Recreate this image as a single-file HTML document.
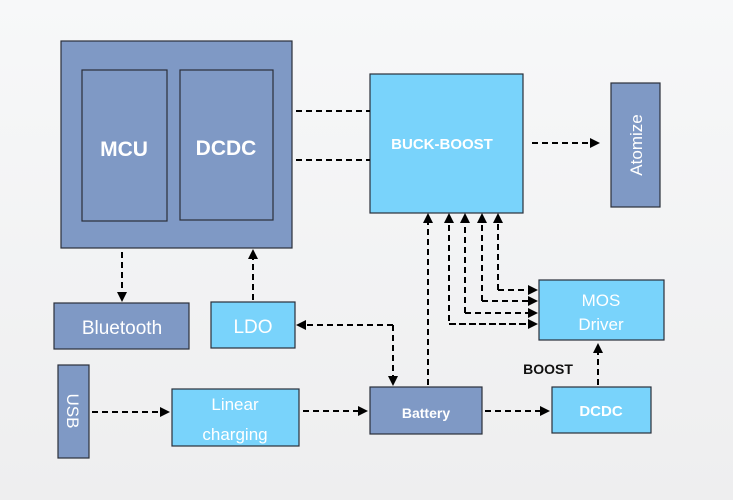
<!DOCTYPE html>
<html><head><meta charset="utf-8"><style>
html,body{margin:0;padding:0;background:#f3f3f4;}
svg{display:block;font-family:"Liberation Sans",sans-serif;}
</style></head><body>
<svg width="733" height="500" viewBox="0 0 733 500" xmlns="http://www.w3.org/2000/svg">
<defs>
<marker id="a" markerWidth="10" markerHeight="10" refX="8" refY="5" orient="auto" markerUnits="userSpaceOnUse">
<path d="M0,0 L10,5 L0,10 z" fill="#000"/></marker>
<linearGradient id="bg" x1="0" y1="0" x2="0" y2="1"><stop offset="0" stop-color="#f7f8f9"/><stop offset="1" stop-color="#eeeeef"/></linearGradient>
</defs>
<rect width="733" height="500" fill="url(#bg)"/>
<g stroke="#2a2f3a" stroke-width="1.2">
<rect x="61" y="41" width="231" height="207" fill="#7f99c5"/>
<rect x="82" y="70" width="85" height="151" fill="#7f99c5"/>
<rect x="180" y="70" width="93" height="150" fill="#7f99c5"/>
<rect x="370" y="74" width="153" height="139" fill="#79d3fb"/>
<rect x="611" y="83" width="49" height="124" fill="#7f99c5"/>
<rect x="54" y="303" width="135" height="46" fill="#7f99c5"/>
<rect x="211" y="302" width="84" height="46" fill="#79d3fb"/>
<rect x="539" y="280" width="125" height="60" fill="#79d3fb"/>
<rect x="58" y="365" width="31" height="93" fill="#7f99c5"/>
<rect x="172" y="389" width="127" height="57" fill="#79d3fb"/>
<rect x="370" y="387" width="112" height="47" fill="#7f99c5"/>
<rect x="552" y="387" width="99" height="46" fill="#79d3fb"/>
</g>
<g fill="#fff" text-anchor="middle">
<text x="124" y="156" font-size="21" font-weight="bold">MCU</text>
<text x="226" y="155" font-size="21" font-weight="bold">DCDC</text>
<text x="442" y="149" font-size="15" font-weight="bold">BUCK-BOOST</text>
<text transform="translate(642,145) rotate(-90)" font-size="17">Atomize</text>
<text x="122" y="334" font-size="19">Bluetooth</text>
<text x="253" y="333" font-size="19">LDO</text>
<text x="601" y="306" font-size="17">MOS</text>
<text x="601" y="330" font-size="17">Driver</text>
<text transform="translate(67,411) rotate(90)" font-size="17">USB</text>
<text x="235" y="410" font-size="17">Linear</text>
<text x="235" y="440" font-size="17">charging</text>
<text x="426" y="418" font-size="14" font-weight="bold">Battery</text>
<text x="601" y="416" font-size="15" font-weight="bold">DCDC</text>
</g>
<text x="548" y="374" font-size="14" font-weight="bold" fill="#111" text-anchor="middle">BOOST</text>
<g stroke="#000" stroke-width="2" stroke-dasharray="6,4" fill="none">
<path d="M296,111 H370"/>
<path d="M296,160 H370"/>
<path d="M532,143 H598" marker-end="url(#a)"/>
<path d="M122,252 V300" marker-end="url(#a)"/>
<path d="M253,300 V251" marker-end="url(#a)"/>
<path d="M393,325 H298" marker-end="url(#a)"/>
<path d="M393,325 V384" marker-end="url(#a)"/>
<path d="M428,385 V215" marker-end="url(#a)"/>
<path d="M536,324 H449 V215" marker-end="url(#a)"/>
<path d="M449,324 H536" marker-end="url(#a)"/>
<path d="M465,313 V215" marker-end="url(#a)"/>
<path d="M465,313 H536" marker-end="url(#a)"/>
<path d="M482,301 V215" marker-end="url(#a)"/>
<path d="M482,301 H536" marker-end="url(#a)"/>
<path d="M498,290 V215" marker-end="url(#a)"/>
<path d="M498,290 H536" marker-end="url(#a)"/>
<path d="M598,385 V345" marker-end="url(#a)"/>
<path d="M485,411 H548" marker-end="url(#a)"/>
<path d="M92,412 H168" marker-end="url(#a)"/>
<path d="M303,411 H366" marker-end="url(#a)"/>
</g>
</svg>
</body></html>
